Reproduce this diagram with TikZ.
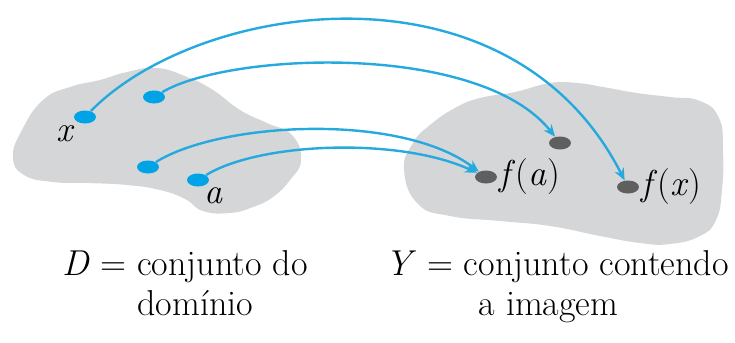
\documentclass[tikz,border=0pt]{standalone}
\usepackage{fontspec}
\usetikzlibrary{shapes.geometric, arrows.meta}

\definecolor{blobgray}{RGB}{213,214,216}
\definecolor{dotblue}{RGB}{0,163,230}
\definecolor{mapblue}{RGB}{38,170,222}
\definecolor{dotgray}{RGB}{95,95,95}

\begin{document}
\begin{tikzpicture}[
        x=0.5pt, y=-0.5pt,
        font=\fontsize{18}{20}\selectfont,
        blob/.style={
            fill=blobgray,
            draw=none
        },
        srcdot/.style={
            ellipse,
            fill=dotblue,
            minimum width=11pt,
            minimum height=6.5pt,
            inner sep=0pt
        },
        imgdot/.style={
            srcdot,
            fill=dotgray
        },
        maparrow/.style={
            draw=mapblue,
            line width=1.2pt,
            -{Stealth[length=6pt,width=5pt]}
        },
        caption/.style={
            align=left,
            inner sep=0pt
        }
    ]
    \useasboundingbox (0,0) rectangle (735,343);
    
    % --- SETS ---
    \fill[blob] plot[smooth cycle, tension=0.8] coordinates {
        (13,157) (22,130) (43,100) (70,87) (100,80) (127,72) (157,68)
        (187,77) (213,90) (240,110) (267,123) (292,135)
        (301,160) (290,180) (273,197) (253,207) (230,213) (203,211)
        (185,199) (160,190) (127,185) (87,183) (53,182) (24,175)};
    \fill[blob] plot[smooth cycle, tension=0.8] coordinates {
        (404,170) (413,143) (430,125) (455,108) (480,98)
        (515,92) (550,83) (577,83) (603,87) (637,93) (670,97) (700,101)
        (719,118) (723,150) (722,190) (716,220) (700,236)
        (670,244) (640,243) (600,236) (550,226) (500,221) (450,216)
        (418,204)};
    
    % --- DOMAIN POINTS ---
    \node[srcdot] (px) at (85,117) {};
    \node[srcdot] (pb) at (154,97) {};
    \node[srcdot] (pc) at (148,167) {};
    \node[srcdot] (pa) at (198,180) {};
    \node (lx) at (66,134) {\textit{x}};
    \node (la) at (214,196) {\textit{a}};
    
    % --- IMAGE POINTS ---
    \node[imgdot] (fb) at (560,143) {};
    \node[imgdot] (fa) at (486,177) {};
    \node[imgdot] (fx) at (628,187) {};
    \node[anchor=west, inner sep=1pt] (lfa) at (fa.east) {\textit{f}(\textit{a})};
    \node[anchor=west, inner sep=1pt] (lfx) at (fx.east) {\textit{f}(\textit{x})};
    
    % --- ARROWS ---
    \draw[maparrow] (px) .. controls (200,0) and (510,-45) .. (fx);
    \draw[maparrow] (pb) .. controls (230,52) and (480,42) .. (fb);
    \draw[maparrow] (pc) .. controls (220,122) and (400,112) .. (fa);
    \draw[maparrow] (pa) .. controls (260,142) and (400,137) .. (fa);
    
    % --- CAPTIONS ---
    \node[caption, anchor=north west] (dom) at (62,250) {\textit{D} = conjunto do\\
        \phantom{\textit{D} = }domínio};
    \node[caption, anchor=north west] (img) at (385,250) {\textit{Y} = conjunto contendo\\
        \phantom{\textit{Y} = c}a imagem};
    
\end{tikzpicture}
\end{document}
